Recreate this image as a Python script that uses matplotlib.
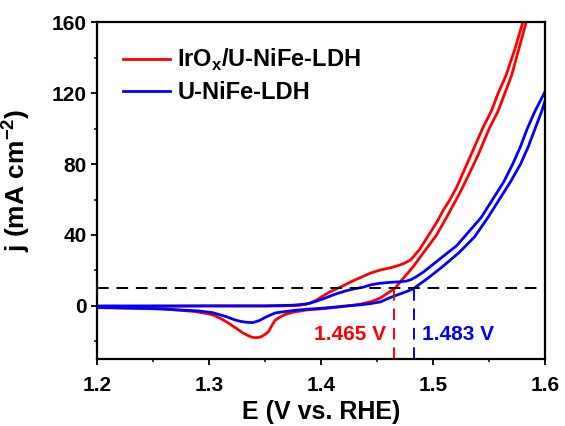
import matplotlib
matplotlib.use("Agg")
import matplotlib.pyplot as plt
from matplotlib.ticker import MultipleLocator

plt.rcParams['font.family'] = ['Liberation Sans', 'DejaVu Sans']
plt.rcParams['font.weight'] = 'bold'
plt.rcParams['mathtext.fontset'] = 'custom'
plt.rcParams['mathtext.rm'] = 'Liberation Sans:bold'
plt.rcParams['mathtext.bf'] = 'Liberation Sans:bold'

# IrOx/U-NiFe-LDH, anodic (upper) and cathodic (lower) branch
E_ir_fwd = [1.226, 1.26, 1.30, 1.34, 1.365, 1.38, 1.385, 1.39, 1.395, 1.40, 1.408,
            1.415, 1.42, 1.428, 1.435, 1.444, 1.453, 1.462, 1.47, 1.475, 1.48,
            1.488, 1.497, 1.503, 1.509, 1.515, 1.521, 1.528, 1.535, 1.544, 1.552,
            1.558, 1.565, 1.573, 1.58]
j_ir_fwd = [-0.3, -0.2, 0, 0, 0, 0.3, 0.8, 1.5, 3, 5, 8,
            10, 11.5, 14, 16, 18.5, 20.3, 21.5, 23, 24.3, 26,
            32, 41, 47, 54, 60, 67, 77, 87, 100, 110,
            120, 130, 145, 160]
E_ir_rev = [1.583, 1.570, 1.558, 1.550, 1.540, 1.531, 1.524, 1.512, 1.503, 1.493,
            1.482, 1.4705, 1.466, 1.46, 1.453, 1.445, 1.435, 1.42, 1.403, 1.387,
            1.375, 1.368, 1.364, 1.359, 1.356, 1.353, 1.35, 1.347, 1.344, 1.341,
            1.338, 1.335, 1.33, 1.325, 1.321, 1.317, 1.31, 1.303, 1.295, 1.2875,
            1.275, 1.258, 1.23, 1.2]
j_ir_rev = [160, 130, 110, 100, 85, 73, 64, 50, 40, 31.5,
            22, 13.5, 10, 7.5, 4.5, 2.5, 1, -0.3, -1.5, -2.3,
            -3.5, -4.8, -6, -8, -11, -14.5, -16, -17.2, -17.8, -17.9,
            -17.6, -16.8, -15.2, -13, -11.3, -9.6, -7, -5, -4, -3.2,
            -2.5, -1.7, -1.3, -1.0]

# U-NiFe-LDH
E_u_fwd = [1.2, 1.25, 1.30, 1.35, 1.375, 1.387, 1.395, 1.403, 1.412, 1.422, 1.43,
           1.437, 1.445, 1.453, 1.462, 1.47, 1.476, 1.48, 1.485, 1.491, 1.50,
           1.51, 1.521, 1.532, 1.543, 1.553, 1.563, 1.571, 1.578, 1.584, 1.591,
           1.6]
j_u_fwd = [0, 0, 0, 0, 0.4, 1.1, 2.5, 4.3, 6.5, 8.5, 9.7,
           10.5, 12, 12.8, 13.3, 13.6, 14, 14.8, 16.5, 19, 23.5,
           28.5, 34, 42, 50, 60, 70, 80, 90, 100, 110,
           121]
E_u_rev = [1.6, 1.597, 1.591, 1.585, 1.578, 1.569, 1.559, 1.549, 1.537, 1.523,
           1.508, 1.495, 1.482, 1.475, 1.467, 1.46, 1.453, 1.444, 1.435, 1.423,
           1.403, 1.387, 1.378, 1.37, 1.364, 1.359, 1.354, 1.35, 1.345, 1.339,
           1.333, 1.328, 1.323, 1.315, 1.303, 1.29, 1.274, 1.258, 1.23, 1.2]
j_u_rev = [116, 110, 100, 90, 80, 70, 60, 50, 39, 30,
           22, 15.5, 9.6, 7.8, 6, 4.3, 2.3, 1.3, 0.6, 0,
           -1.2, -1.9, -2.4, -3, -3.5, -4, -5.3, -6.5, -8.2, -9.4,
           -9.2, -8.7, -7.9, -6, -3.8, -2.8, -2.3, -1.7, -1.2, -0.8]

labels = [r'IrO$_{\mathrm{x}}$/U-NiFe-LDH', 'U-NiFe-LDH']
colors = ['#ff0000', '#0000ff']
j_ref = 10
E_onset = [1.465, 1.483]

fig = plt.figure(figsize=(5.65, 4.26), dpi=100)
ax = fig.add_axes([0.172, 0.157, 0.793, 0.791])

ax.plot(E_ir_fwd, j_ir_fwd, color=colors[0], lw=2.0, label=labels[0])
ax.plot(E_ir_rev, j_ir_rev, color=colors[0], lw=2.0)
ax.plot(E_u_fwd, j_u_fwd, color=colors[1], lw=2.0, label=labels[1])
ax.plot(E_u_rev, j_u_rev, color=colors[1], lw=2.0)

ax.axhline(j_ref, color='black', lw=1.4, ls=(0, (6, 4)))
for e, c in zip(E_onset, colors):
    ax.plot([e, e], [-30, j_ref], color=c, lw=1.4, ls=(0, (6, 4)))

ax.text(1.458, -16, '1.465 V', color=colors[0], fontsize=15, fontweight='bold',
        ha='right', va='center')
ax.text(1.490, -16, '1.483 V', color=colors[1], fontsize=15, fontweight='bold',
        ha='left', va='center')

ax.set_xlim(1.2, 1.6)
ax.set_ylim(-30, 160)
ax.xaxis.set_major_locator(MultipleLocator(0.1))
ax.xaxis.set_minor_locator(MultipleLocator(0.05))
ax.yaxis.set_major_locator(MultipleLocator(40))
ax.yaxis.set_minor_locator(MultipleLocator(20))
ax.tick_params(which='major', direction='out', length=4, width=1.3, labelsize=15)
ax.tick_params(axis='x', which='major', pad=8)
ax.tick_params(which='minor', direction='out', length=2.5, width=1.1)
for s in ax.spines.values():
    s.set_linewidth(1.6)

ax.set_xlabel('E (V vs. RHE)', fontsize=18, fontweight='bold', labelpad=4)
ax.set_ylabel(r'j (mA cm$^{\mathrm{-2}}$)', fontsize=19, fontweight='bold')
ax.yaxis.set_label_coords(-0.145, 0.53)

ax.legend(loc='upper left', frameon=False, fontsize=17, handlelength=2.0,
          handletextpad=0.3, labelspacing=0.35, bbox_to_anchor=(0.01, 0.99))

fig.savefig('out.png', dpi=100)
